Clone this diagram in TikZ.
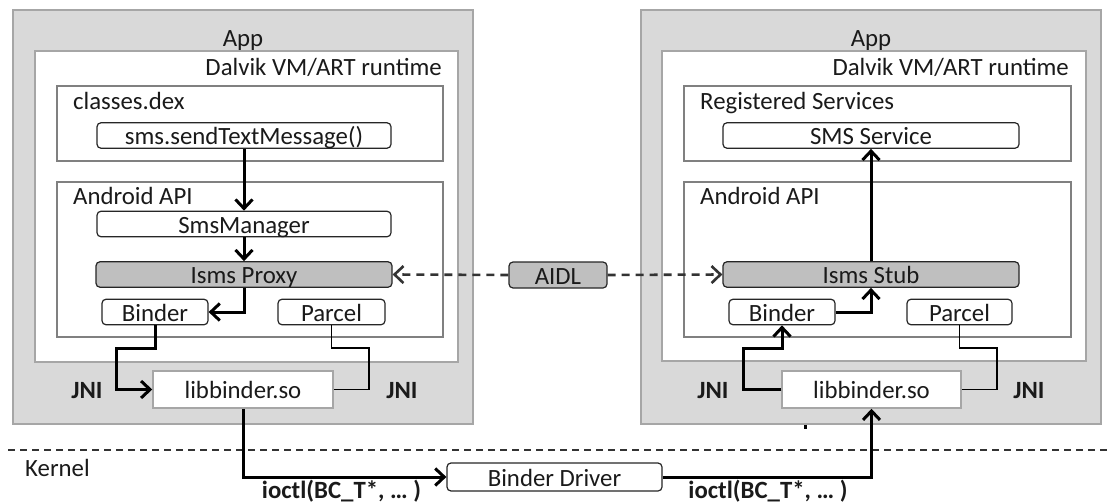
\documentclass[tikz,border=0pt]{standalone}
\usepackage{fontspec}
\setmainfont{Carlito}
\usetikzlibrary{arrows.meta}
\definecolor{appfill}{HTML}{D9D9D9}
\definecolor{appline}{HTML}{A6A6A6}
\definecolor{boxline}{HTML}{808080}
\definecolor{grayfill}{HTML}{BFBFBF}
\definecolor{txt}{HTML}{1A1A1A}
\definecolor{dashgray}{HTML}{333333}
\begin{document}
\begin{tikzpicture}[x=1pt,y=-1pt,
  font=\fontsize{24.8}{29}\selectfont, text=txt,
  appbox/.style={draw=appline, line width=1.5pt, fill=appfill, inner sep=0pt},
  vmbox/.style={draw=appline, line width=1.5pt, fill=white, inner sep=0pt},
  layerbox/.style={draw=boxline, line width=1.3pt, fill=white, inner sep=0pt},
  rbox/.style={draw=black!85, line width=1.2pt, fill=white, rounded corners=4pt, inner sep=0pt,
     minimum height=25.5pt, text height=18pt, text depth=0pt},
  gbox/.style={rbox, fill=grayfill},
  libbox/.style={draw=appline, line width=1.5pt, fill=white, inner sep=0pt,
     minimum width=180pt, minimum height=37pt, text height=18pt, text depth=0pt},
  lbl/.style={inner sep=0pt},
  blbl/.style={inner sep=0pt, font=\fontsize{24.8}{29}\selectfont\bfseries},
  arr/.style={line width=3pt, black, -{Straight Barb[length=9pt,width=17pt]}},
  thin/.style={line width=1.5pt, black},
  dasharr/.style={line width=2.6pt, dash pattern=on 8pt off 6pt, -{Straight Barb[length=9pt,width=17pt]}},
]
\useasboundingbox (0,0) rectangle (1111,503);

% ---------- left app ----------
\node[appbox, minimum width=460pt, minimum height=414pt] (appL) at (243,217) {};
\node[vmbox, minimum width=423pt, minimum height=311pt] (vmL) at (246.5,206.5) {};
\node[layerbox, minimum width=386pt, minimum height=75pt] (dexL) at (250,123.5) {};
\node[layerbox, minimum width=386pt, minimum height=155pt] (apiL) at (250,259.5) {};
\node[lbl, anchor=base] (appLt) at (243,47) {App};
\node[lbl, anchor=base east] (vmLt) at (442,76) {Dalvik VM/ART runtime};
\node[lbl, anchor=base west] (dexLt) at (73,110) {classes.dex};
\node[lbl, anchor=base west] (apiLt) at (73,204) {Android API};

\node[rbox, minimum width=294pt] (send) at (244,135.5) {sms.sendTextMessage()};
\node[rbox, minimum width=294pt] (smsmgr) at (244,224) {SmsManager};
\node[gbox, minimum width=296pt] (proxy) at (244,274.5) {Isms Proxy};
\node[rbox, minimum width=106pt] (binderL) at (155,312) {Binder};
\node[rbox, minimum width=107pt] (parcelL) at (331.5,312) {Parcel};
\node[libbox] (libL) at (243,389.5) {libbinder.so};
\node[blbl, anchor=base] (jniL1) at (87,398) {JNI};
\node[blbl, anchor=base] (jniL2) at (402,398) {JNI};

% ---------- right app ----------
\node[appbox, minimum width=460pt, minimum height=414pt] (appR) at (871,217) {};
\node[vmbox, minimum width=424pt, minimum height=310pt] (vmR) at (874,206) {};
\node[layerbox, minimum width=387pt, minimum height=75pt] (regR) at (877.5,123.5) {};
\node[layerbox, minimum width=387pt, minimum height=155pt] (apiR) at (877.5,259.5) {};
\node[lbl, anchor=base] (appRt) at (871,47) {App};
\node[lbl, anchor=base east] (vmRt) at (1069,76) {Dalvik VM/ART runtime};
\node[lbl, anchor=base west] (regRt) at (700,110) {Registered Services};
\node[lbl, anchor=base west] (apiRt) at (700,204) {Android API};

\node[rbox, minimum width=296pt] (smssvc) at (871,135.5) {SMS Service};
\node[gbox, minimum width=296pt] (stub) at (871,274.5) {Isms Stub};
\node[rbox, minimum width=106pt] (binderR) at (782,312) {Binder};
\node[rbox, minimum width=105pt] (parcelR) at (959.5,312) {Parcel};
\node[libbox, minimum width=179pt] (libR) at (871.5,389.5) {libbinder.so};
\node[blbl, anchor=base] (jniR1) at (713,398) {JNI};
\node[blbl, anchor=base] (jniR2) at (1029,398) {JNI};
\fill[black] (804,425) rectangle (807,429);

% ---------- middle ----------
\node[gbox, minimum width=98pt, minimum height=26pt] (aidl) at (558,275) {AIDL};
\node[rbox, minimum width=215pt, minimum height=28pt] (driver) at (554.5,477) {Binder Driver};
\coordinate (kl) at (8,450);
\coordinate (kr) at (1108,450);
\draw[dashgray, line width=1.6pt, dash pattern=on 7pt off 5pt] (kl) -- (kr);
\node[lbl, anchor=base west] (kernel) at (25,476) {Kernel};
\node[blbl, anchor=base] (ioctlL) at (341.5,498) {ioctl(BC\_T*, … )};
\node[blbl, anchor=base] (ioctlR) at (768,498) {ioctl(BC\_T*, … )};

% ---------- connectors ----------
\draw[arr] (send) -- (smsmgr);
\draw[arr] (smsmgr) -- (proxy);
\draw[arr] (proxy.south) |- (binderL.east);
\coordinate (bL1) at (116,348);
\draw[arr] (binderL.south) |- (bL1) |- (libL.west);
\coordinate (pL1) at (369,348);
\draw[thin] (parcelL.south) |- (pL1) |- (libL.east);
\draw[arr] (libL.south) |- (driver.west);
\draw[arr] (driver.east) -| (libR.south);
\coordinate (bR1) at (743,348);
\draw[arr] (libR.west) -| (bR1) -| (binderR.south);
\draw[arr] (binderR.east) -| (stub.south);
\draw[arr] (stub.north) -- (smssvc.south);
\coordinate (pR1) at (997,348);
\draw[thin] (parcelR.south) |- (pR1) |- (libR.east);
\draw[dasharr, draw=dashgray] (aidl.west) -- (proxy.east);
\draw[dasharr, draw=dashgray] (aidl.east) -- (stub.west);
\end{tikzpicture}
\end{document}
